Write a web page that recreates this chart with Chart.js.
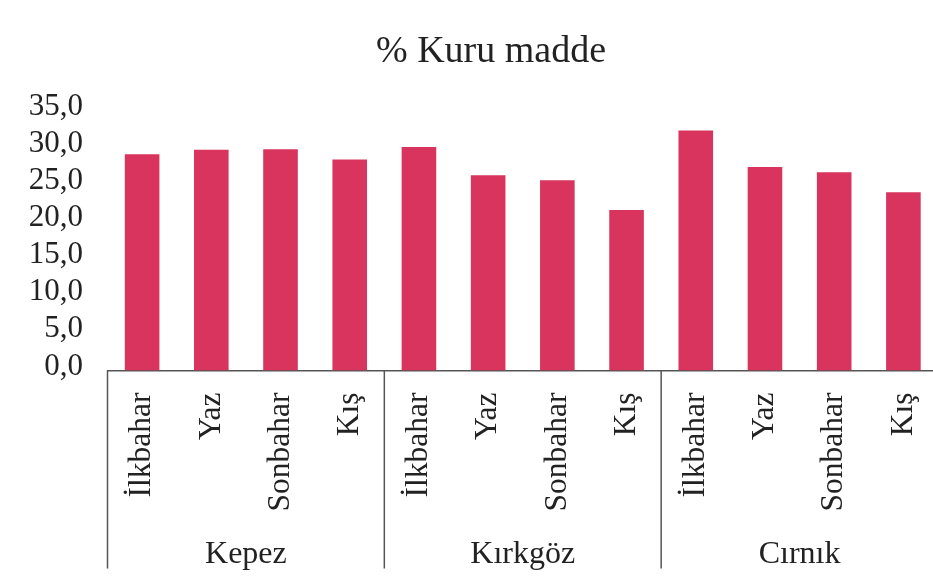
<!DOCTYPE html>
<html>
<head>
<meta charset="utf-8">
<script src="https://cdn.jsdelivr.net/npm/chart.js@4/dist/chart.umd.min.js"></script>
<style>
  html, body { margin: 0; padding: 0; background: #fff; overflow: hidden; }
  #wrap { width: 982px; height: 580px; position: relative; }
</style>
</head>
<body>
<div id="wrap"><canvas id="c" width="982" height="580"></canvas></div>
<script>
const titleText = '% Kuru madde';
const groups = ["Kepez", "Kırkgöz", "Cırnık"];
const seasons = ["İlkbahar", "Yaz", "Sonbahar", "Kış"];
const kepez = [29.1, 29.7, 29.8, 28.4];
const kirkgoz = [30.1, 26.3, 25.6, 21.6];
const cirnik = [32.3, 27.4, 26.7, 24.0];
const yTicks = [0, 5, 10, 15, 20, 25, 30, 35];

const labels = [];
groups.forEach(() => seasons.forEach(s => labels.push(s)));
const values = [].concat(kepez, kirkgoz, cirnik);

const FONT = "'Liberation Serif', 'Times New Roman', serif";
const TXT = '#222222';

const groupPlugin = {
  id: 'groupAxis',
  afterDraw(chart) {
    const ctx = chart.ctx;
    const xs = chart.scales.x;
    const area = chart.chartArea;
    const n = seasons.length;
    ctx.save();
    // title, centred on the full (uncropped) chart width
    ctx.fillStyle = TXT;
    ctx.font = "38px " + FONT;
    ctx.textAlign = 'center';
    ctx.textBaseline = 'middle';
    ctx.fillText(titleText, chart.width / 2, area.top - 58);

    ctx.strokeStyle = '#555555';
    ctx.lineWidth = 1.5;
    for (let g = 0; g <= groups.length; g++) {
      const i = g * n;
      let x;
      if (i === 0) x = area.left;
      else if (i >= labels.length) x = area.right;
      else x = (xs.getPixelForValue(i - 1) + xs.getPixelForValue(i)) / 2;
      ctx.beginPath();
      ctx.moveTo(x, area.bottom);
      ctx.lineTo(x, area.bottom + 198);
      ctx.stroke();
    }
    ctx.font = "32px " + FONT;
    groups.forEach((g, gi) => {
      const x = (xs.getPixelForValue(gi * n) + xs.getPixelForValue(gi * n + n - 1)) / 2;
      ctx.fillText(g, x, area.bottom + 184);
    });
    ctx.restore();
  }
};

new Chart(document.getElementById('c'), {
  type: 'bar',
  data: {
    labels: labels,
    datasets: [{
      data: values,
      backgroundColor: '#D8345E',
      borderWidth: 0,
      categoryPercentage: 1.0,
      barPercentage: 0.5
    }]
  },
  options: {
    responsive: false,
    animation: false,
    devicePixelRatio: 1,
    layout: { padding: { left: 0, right: 44, top: 110.5, bottom: 0 } },
    plugins: {
      legend: { display: false },
      tooltip: { enabled: false },
      title: { display: false }
    },
    scales: {
      x: {
        grid: { display: false },
        border: { display: true, color: '#555555', width: 1.5 },
        ticks: {
          autoSkip: false,
          minRotation: 90,
          maxRotation: 90,
          padding: 14,
          color: TXT,
          font: { family: FONT, size: 31.5 }
        },
        afterFit(s) { s.height = 209.5; }
      },
      y: {
        min: 0,
        max: 35,
        afterBuildTicks(s) { s.ticks = yTicks.map(v => ({ value: v })); },
        grid: { display: false },
        border: { display: false },
        ticks: {
          autoSkip: false,
          padding: 16.5,
          labelOffset: -4,
          color: TXT,
          font: { family: FONT, size: 31 },
          callback: v => Number(v).toFixed(1).replace('.', ',')
        },
        afterFit(s) { s.width = 107.5; }
      }
    }
  },
  plugins: [groupPlugin]
});
</script>
</body>
</html>
